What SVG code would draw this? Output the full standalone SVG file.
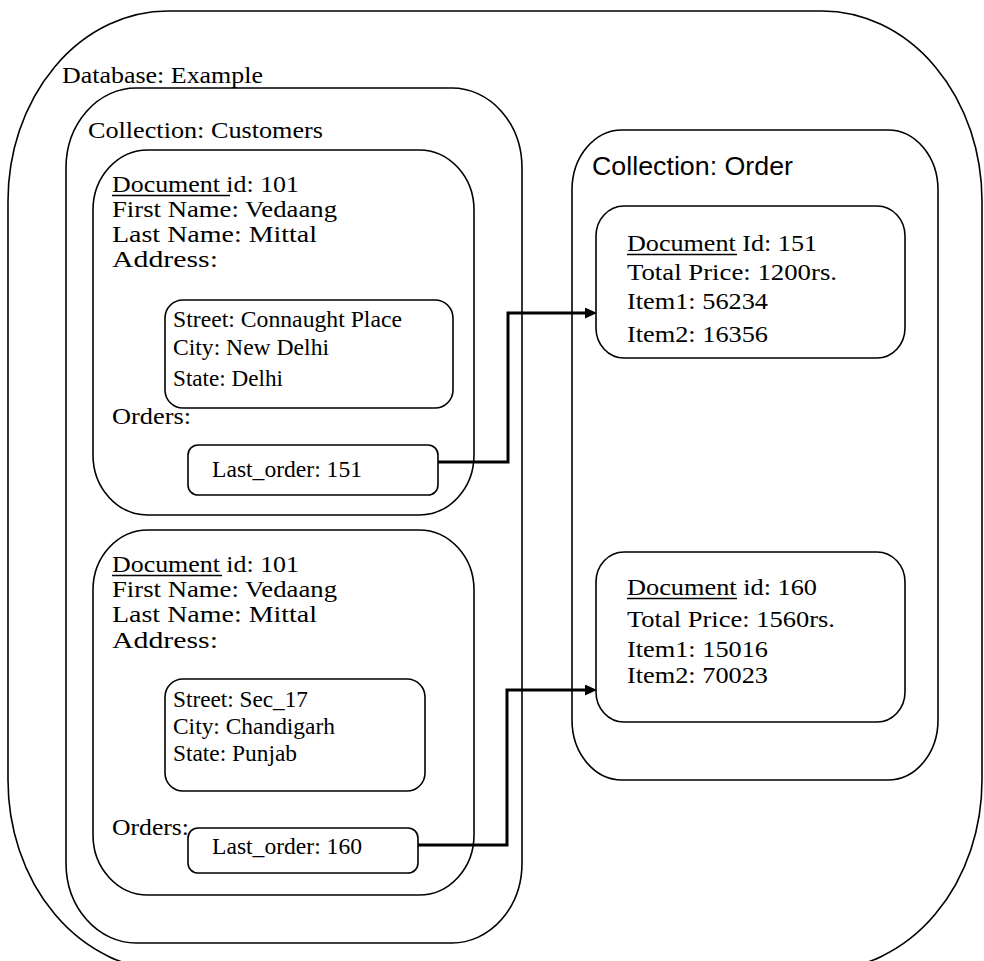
<svg xmlns="http://www.w3.org/2000/svg" width="984" height="961" viewBox="0 0 984 961">
<style>
.box{fill:none;stroke:#000;stroke-width:1.6}
.t{font-family:"Liberation Serif","Times New Roman",serif;font-size:23px;fill:#000}
.s{font-family:"Liberation Serif","Times New Roman",serif;font-size:23px;fill:#000}
.sans{font-family:"Liberation Sans",Arial,sans-serif;font-size:25px;fill:#000}
.u{stroke:#000;stroke-width:1.6}
.conn{fill:none;stroke:#000;stroke-width:3}
</style>
<defs>
<marker id="arr" markerUnits="userSpaceOnUse" markerWidth="13" markerHeight="12" refX="0" refY="5.5" orient="auto">
<path d="M0,0 L12,5.5 L0,11 z" fill="#000"/>
</marker>
</defs>
<rect width="984" height="961" fill="#fff"/>
<g id="database">
<rect class="box" x="8" y="11" width="974" height="959" rx="160" ry="190"/>
<text class="t" x="62" y="83" textLength="201" lengthAdjust="spacingAndGlyphs">Database: Example</text>
</g>
<g id="customers">
<rect class="box" x="66" y="88" width="456" height="855" rx="70" ry="80"/>
<text class="t" x="88" y="138" textLength="235" lengthAdjust="spacingAndGlyphs">Collection: Customers</text>
</g>
<g id="cust-doc1">
<rect class="box" x="93" y="150" width="381" height="365" rx="55" ry="60"/>
<text class="t" x="112" y="192" textLength="187" lengthAdjust="spacingAndGlyphs">Document id: 101</text>
<line class="u" x1="112" y1="195.5" x2="230" y2="195.5"/>
<text class="t" x="112" y="217" textLength="225" lengthAdjust="spacingAndGlyphs">First Name: Vedaang</text>
<text class="t" x="112" y="242" textLength="205" lengthAdjust="spacingAndGlyphs">Last Name: Mittal</text>
<text class="t" x="112" y="267" textLength="106" lengthAdjust="spacingAndGlyphs">Address:</text>
<text class="t" x="112" y="424" textLength="79" lengthAdjust="spacingAndGlyphs">Orders:</text>
</g>
<g id="addr1">
<rect class="box" x="165" y="300" width="288" height="108" rx="18" ry="18"/>
<text class="s" x="173" y="327" textLength="229" lengthAdjust="spacingAndGlyphs">Street: Connaught Place</text>
<text class="s" x="173" y="355" textLength="156" lengthAdjust="spacingAndGlyphs">City: New Delhi</text>
<text class="s" x="173" y="386" textLength="110" lengthAdjust="spacingAndGlyphs">State: Delhi</text>
</g>
<g id="lastorder1">
<rect class="box" x="188" y="445" width="250" height="50" rx="10" ry="10"/>
<text class="s" x="212" y="477" textLength="150" lengthAdjust="spacingAndGlyphs">Last_order: 151</text>
</g>
<g id="cust-doc2">
<rect class="box" x="93" y="530" width="381" height="365" rx="55" ry="60"/>
<text class="t" x="112" y="572" textLength="187" lengthAdjust="spacingAndGlyphs">Document id: 101</text>
<line class="u" x1="112" y1="575.5" x2="222" y2="575.5"/>
<text class="t" x="112" y="597" textLength="225" lengthAdjust="spacingAndGlyphs">First Name: Vedaang</text>
<text class="t" x="112" y="622" textLength="205" lengthAdjust="spacingAndGlyphs">Last Name: Mittal</text>
<text class="t" x="112" y="648" textLength="106" lengthAdjust="spacingAndGlyphs">Address:</text>
<text class="t" x="112" y="835" textLength="77" lengthAdjust="spacingAndGlyphs">Orders:</text>
</g>
<g id="addr2">
<rect class="box" x="165" y="679" width="260" height="112" rx="18" ry="18"/>
<text class="s" x="173" y="707" textLength="135" lengthAdjust="spacingAndGlyphs">Street: Sec_17</text>
<text class="s" x="173" y="734" textLength="162" lengthAdjust="spacingAndGlyphs">City: Chandigarh</text>
<text class="s" x="173" y="761" textLength="124" lengthAdjust="spacingAndGlyphs">State: Punjab</text>
</g>
<g id="lastorder2">
<rect class="box" x="188" y="828" width="230" height="45" rx="10" ry="10"/>
<text class="s" x="212" y="854" textLength="150" lengthAdjust="spacingAndGlyphs">Last_order: 160</text>
</g>
<g id="orders">
<rect class="box" x="572" y="130" width="366" height="650" rx="50" ry="60"/>
<text class="sans" x="592" y="175" textLength="201" lengthAdjust="spacingAndGlyphs">Collection: Order</text>
</g>
<g id="order-doc1">
<rect class="box" x="596" y="206" width="309" height="152" rx="28" ry="30"/>
<text class="s" x="627" y="251" textLength="190" lengthAdjust="spacingAndGlyphs">Document Id: 151</text>
<line class="u" x1="627" y1="254.5" x2="737" y2="254.5"/>
<text class="s" x="627" y="280" textLength="210" lengthAdjust="spacingAndGlyphs">Total Price: 1200rs.</text>
<text class="s" x="627" y="309" textLength="141" lengthAdjust="spacingAndGlyphs">Item1: 56234</text>
<text class="s" x="627" y="342" textLength="141" lengthAdjust="spacingAndGlyphs">Item2: 16356</text>
</g>
<g id="order-doc2">
<rect class="box" x="596" y="552" width="309" height="170" rx="28" ry="30"/>
<text class="s" x="627" y="595" textLength="190" lengthAdjust="spacingAndGlyphs">Document id: 160</text>
<line class="u" x1="627" y1="598.5" x2="737" y2="598.5"/>
<text class="s" x="627" y="627" textLength="208" lengthAdjust="spacingAndGlyphs">Total Price: 1560rs.</text>
<text class="s" x="627" y="657" textLength="141" lengthAdjust="spacingAndGlyphs">Item1: 15016</text>
<text class="s" x="627" y="683" textLength="141" lengthAdjust="spacingAndGlyphs">Item2: 70023</text>
</g>
<g id="connectors">
<path class="conn" d="M438,462 H508 V313 H585" marker-end="url(#arr)"/>
<path class="conn" d="M418,845 H507 V690 H585" marker-end="url(#arr)"/>
</g>
</svg>
